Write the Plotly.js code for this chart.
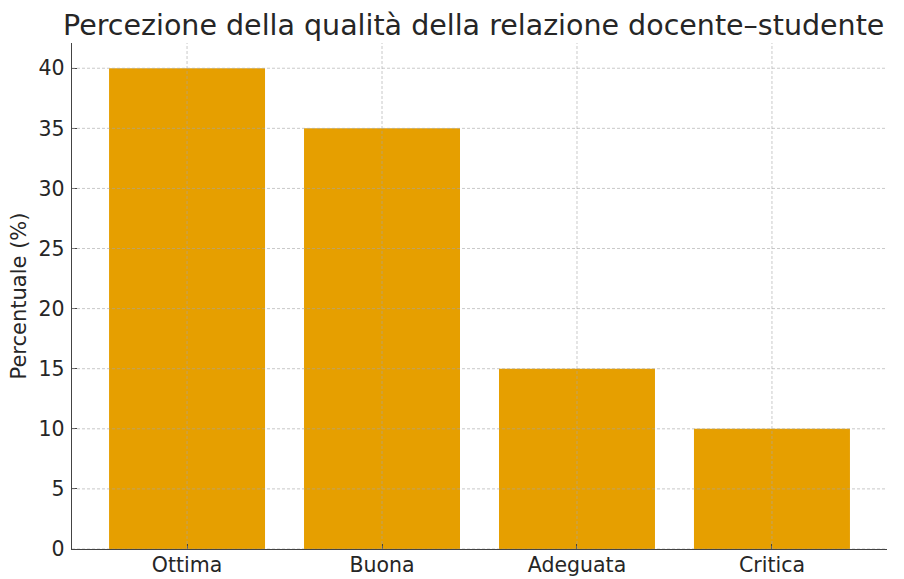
<!DOCTYPE html>
<html>
<head>
<meta charset="utf-8">
<script src="https://cdn.plot.ly/plotly-3.0.1.min.js"></script>
<style>html,body{margin:0;padding:0;background:#fff;}#chart{width:904px;height:579px;}</style>
</head>
<body>
<div id="chart"></div>
<script>
const categories = ["Ottima", "Buona", "Adeguata", "Critica"];
const percentuali = [40, 35, 15, 10];
const yTicks = [0, 5, 10, 15, 20, 25, 30, 35, 40];

const trace = {
  type: "bar",
  x: categories,
  y: percentuali,
  width: 0.8,
  marker: {color: "#E69F00", line: {width: 0}},
  hoverinfo: "x+y"
};

const gridLine = {color: "rgba(165,165,165,0.6)", width: 1, dash: "3px,2px"};
const shapes = [];
yTicks.forEach(v => shapes.push({type: "line", xref: "paper", yref: "y", x0: 0, x1: 1, y0: v, y1: v, line: gridLine, layer: "above"}));
categories.forEach(c => shapes.push({type: "line", xref: "x", yref: "paper", x0: c, x1: c, y0: 0, y1: 1, line: gridLine, layer: "above"}));

const font = {family: "DejaVu Sans, sans-serif", color: "#262626"};

const layout = {
  width: 904, height: 579,
  margin: {l: 72, r: 17, t: 43, b: 30},
  paper_bgcolor: "#fff", plot_bgcolor: "#fff",
  font: font,
  showlegend: false,
  shapes: shapes,
  title: {text: "Percezione della qualità della relazione docente–studente",
          font: {family: "DejaVu Sans, sans-serif", size: 28.5, color: "#262626"},
          x: 0.524, xanchor: "center", y: 0.957, yanchor: "middle"},
  xaxis: {
    range: [-0.59, 3.59],
    showline: true, linecolor: "#444", linewidth: 1.3,
    ticks: "inside", ticklen: 5, tickcolor: "#444",
    showgrid: false,
    tickfont: {size: 20.5, color: "#262626"},
    ticklabelstandoff: -3,
    zeroline: false, layer: "above traces"
  },
  yaxis: {
    range: [0, 42.1],
    tickvals: yTicks,
    showline: true, linecolor: "#444", linewidth: 1.3,
    ticks: "inside", ticklen: 5, tickcolor: "#444",
    showgrid: false,
    tickfont: {size: 20.5, color: "#262626"},
    ticklabelstandoff: 2,
    zeroline: false, layer: "above traces",
    title: {text: "Percentuale (%)", font: {size: 21, color: "#262626"}, standoff: 6}
  },
  bargap: 0.2
};

Plotly.newPlot("chart", [trace], layout, {displayModeBar: false, staticPlot: true});
</script>
</body>
</html>
